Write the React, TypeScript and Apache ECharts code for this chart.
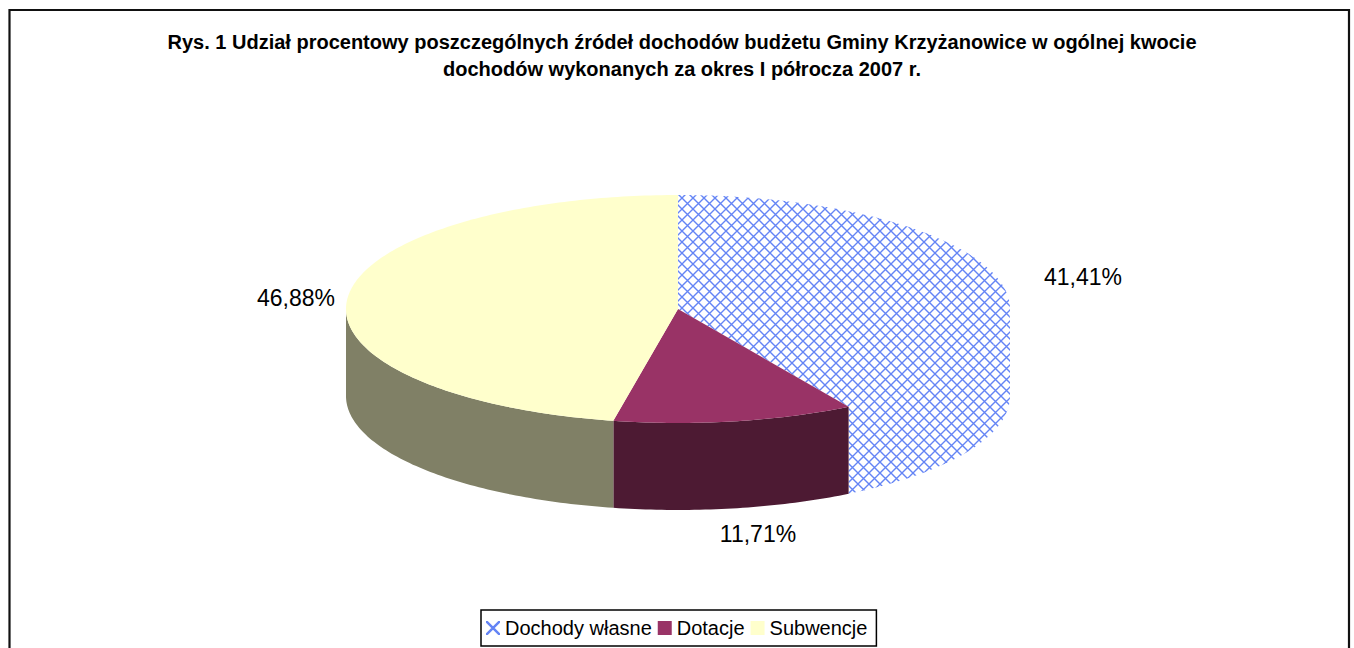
import React, { useEffect, useRef } from "react";
import * as echarts from "echarts";

const categories = ["Dochody własne", "Dotacje", "Subwencje"];
const values = [41.41, 11.71, 46.88];
const titleLines = [
  "Rys. 1 Udział procentowy poszczególnych źródeł dochodów budżetu Gminy Krzyżanowice w ogólnej kwocie",
  "dochodów wykonanych za okres I półrocza 2007 r.",
];

const PIE = { cx: 678, cy: 309, rx: 332, ry: 114, depth: 87 };
const topColors = ["#6484f5", "#993366", "#ffffcc"];
const sideColors = ["#6484f5", "#4d1a33", "#808066"];
const labelAnchors = [
  [1083, 277],
  [758, 534],
  [296, 298],
];

function hatchCanvas() {
  const size = 11;
  const c = document.createElement("canvas");
  c.width = size;
  c.height = size;
  const g = c.getContext("2d")!;
  g.fillStyle = "#ffffff";
  g.fillRect(0, 0, size, size);
  g.strokeStyle = "#6484f5";
  g.lineWidth = 1.4;
  g.beginPath();
  g.moveTo(-2, -2);
  g.lineTo(size + 2, size + 2);
  g.moveTo(size + 2, -2);
  g.lineTo(-2, size + 2);
  g.stroke();
  return c;
}

export default function App() {
  const ref = useRef<HTMLDivElement>(null);
  useEffect(() => {
    document.body.style.margin = "0";
    const chart = echarts.init(ref.current!, null, { renderer: "svg" });
    const hatch = { image: hatchCanvas(), repeat: "repeat" };
    const total = values.reduce((a, b) => a + b, 0);
    const pt = (a: number, dy = 0) => [
      PIE.cx + PIE.rx * Math.sin(a),
      PIE.cy - PIE.ry * Math.cos(a) + dy,
    ];
    const arc = (a0: number, a1: number, dy = 0) => {
      const n = Math.max(2, Math.ceil(Math.abs(a1 - a0) * 60));
      const out: number[][] = [];
      for (let i = 0; i <= n; i++) out.push(pt(a0 + ((a1 - a0) * i) / n, dy));
      return out;
    };
    let acc = 0;
    const spans = values.map((v) => {
      const a0 = (acc / total) * Math.PI * 2;
      acc += v;
      return [a0, (acc / total) * Math.PI * 2];
    });

    const makeSeries = (idx: number) => ({
      type: "custom",
      name: categories[idx],
      coordinateSystem: "none",
      silent: true,
      itemStyle: { color: topColors[idx] },
      data: [[values[idx]]],
      renderItem: (_p: any, api: any) => {
        const v = api.value(0);
        const [a0, a1] = spans[idx];
        const fill = idx === 0 ? hatch : topColors[idx];
        const sideFill = idx === 0 ? hatch : sideColors[idx];
        const children: any[] = [];
        const s0 = Math.max(a0, Math.PI / 2);
        const s1 = Math.min(a1, (Math.PI * 3) / 2);
        if (s1 > s0) {
          const front = arc(s0, s1);
          const back = arc(s1, s0, PIE.depth);
          children.push({
            type: "polygon",
            shape: { points: front.concat(back) },
            style: { fill: sideFill, stroke: null },
          });
        }
        children.push({
          type: "polygon",
          shape: { points: [[PIE.cx, PIE.cy], ...arc(a0, a1)] },
          style: { fill, stroke: null },
        });
        children.push({
          type: "text",
          style: {
            x: labelAnchors[idx][0],
            y: labelAnchors[idx][1],
            text: v.toFixed(2).replace(".", ",") + "%",
            fontFamily: "Liberation Sans",
            fontSize: 23,
            fill: "#000",
            align: "center",
            verticalAlign: "middle",
          },
        });
        return { type: "group", children };
      },
    });

    chart.setOption({
      animation: false,
      backgroundColor: "#ffffff",
      title: {
        text: titleLines.join("\n"),
        left: 677,
        top: 23,
        textAlign: "center",
        textStyle: {
          fontFamily: "Liberation Sans",
          fontSize: 20,
          fontWeight: "bold",
          color: "#000",
          lineHeight: 27,
        },
      },
      legend: {
        left: 481,
        top: 610,
        orient: "horizontal",
        padding: [8, 9, 8, 5],
        backgroundColor: "#fff",
        borderColor: "#000",
        borderWidth: 1.5,
        borderRadius: 0,
        itemWidth: 14,
        itemHeight: 14,
        itemGap: 6,
        textStyle: {
          fontFamily: "Liberation Sans",
          fontSize: 20,
          color: "#000",
        },
        data: [
          {
            name: categories[0],
            icon: "path://M0 0L1.5 0L12 10.5L12 12L10.5 12L0 1.5ZM12 0L12 1.5L1.5 12L0 12L0 10.5L10.5 0Z",
            itemStyle: { color: topColors[0] },
          },
          { name: categories[1], icon: "rect", itemStyle: { color: topColors[1] } },
          { name: categories[2], icon: "rect", itemStyle: { color: topColors[2] } },
        ],
      },
      graphic: [
        {
          type: "rect",
          silent: true,
          z: -1,
          shape: { x: 9.5, y: 10, width: 1339.5, height: 660 },
          style: { fill: "#fff", stroke: "#111", lineWidth: 2.2 },
        },
      ],
      series: [0, 1, 2].map(makeSeries),
    });
    return () => chart.dispose();
  }, []);
  return <div ref={ref} style={{ width: 1354, height: 648, position: "absolute", left: 0, top: 0 }} />;
}
